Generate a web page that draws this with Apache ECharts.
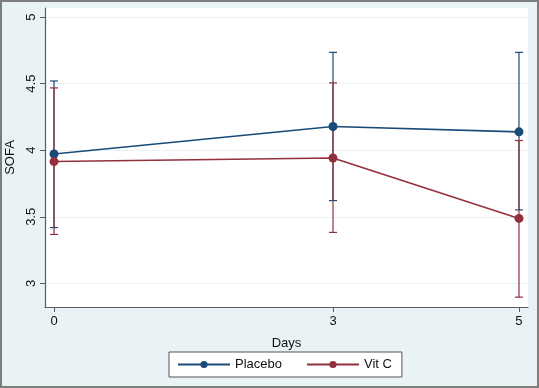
<!DOCTYPE html>
<html>
<head>
<meta charset="utf-8">
<script src="https://cdn.jsdelivr.net/npm/echarts@6/dist/echarts.min.js"></script>
<style>
  html, body { margin: 0; padding: 0; background: #fff; }
  #chart { width: 539px; height: 388px; box-sizing: border-box; border: 2px solid #7d7d7d; }
</style>
</head>
<body>
<div id="chart"></div>
<script>
// data
const days = [0, 3, 5];
const placeboMean = [3.972, 4.178, 4.138];
const placeboLow = [3.419, 3.622, 3.552];
const placeboHigh = [4.52, 4.735, 4.735];
const vitcMean = [3.915, 3.942, 3.488];
const vitcLow = [3.368, 3.383, 2.897];
const vitcHigh = [4.468, 4.506, 4.073];
const yTicks = [3, 3.5, 4, 4.5, 5];
const xTicks = [0, 3, 5];

const blue = "#1a4b78";
const red = "#93303d";

const chart = echarts.init(document.getElementById("chart"));

// error bar drawer
const errorBars = (name, low, high, color) => ({
  name: name,
  type: "custom",
  z: 1,
  color: color,
  data: days.map((d, i) => [d, low[i], high[i]]),
  renderItem: (params, api) => {
    const lo = api.coord([api.value(0), api.value(1)]);
    const hi = api.coord([api.value(0), api.value(2)]);
    const half = 4;
    const style = { stroke: color, lineWidth: 1.2 };
    return {
      type: "group",
      children: [
        { type: "line", shape: { x1: lo[0], y1: lo[1], x2: hi[0], y2: hi[1] }, style: style },
        { type: "line", shape: { x1: lo[0] - half, y1: lo[1], x2: lo[0] + half, y2: lo[1] }, style: style },
        { type: "line", shape: { x1: hi[0] - half, y1: hi[1], x2: hi[0] + half, y2: hi[1] }, style: style },
      ],
    };
  },
});

const font = "Liberation Sans, Arial, sans-serif";

chart.setOption({
  backgroundColor: "#e9f2f4",
  animation: false,
  textStyle: { fontFamily: font },
  grid: {
    left: 43,
    right: 9,
    top: 6,
    bottom: 79,
    outerBoundsMode: "none",
    containLabel: false,
    show: true,
    backgroundColor: "#ffffff",
    borderWidth: 0,
  },
  xAxis: {
    type: "value",
    min: -0.097,
    max: 5.097,
    name: "Days",
    nameLocation: "middle",
    nameGap: 30,
    nameTextStyle: { fontSize: 13, color: "#111" },
    axisLine: { show: true, onZero: false, lineStyle: { color: "#5a5a5a", width: 1.2 } },
    axisTick: { show: true, length: 5, customValues: xTicks, lineStyle: { color: "#5a5a5a" } },
    axisLabel: { customValues: xTicks, fontSize: 13, color: "#111", margin: 8 },
    splitLine: { show: false },
  },
  yAxis: {
    type: "value",
    min: 2.823,
    max: 5.068,
    name: "SOFA",
    nameLocation: "middle",
    nameRotate: 90,
    nameGap: 17,
    nameTextStyle: { fontSize: 13, color: "#111" },
    axisLine: { show: true, onZero: false, lineStyle: { color: "#5a5a5a", width: 1.2 } },
    axisTick: { show: true, length: 5, customValues: yTicks, lineStyle: { color: "#5a5a5a" } },
    axisLabel: { customValues: yTicks, rotate: 90, fontSize: 13, color: "#111", margin: 7 },
    splitLine: { show: true, lineStyle: { color: "#e8f1f4", width: 1 } },
  },
  legend: {
    left: 167,
    top: 350,
    padding: [6, 10, 6, 8],
    itemGap: 24,
    itemWidth: 52,
    itemHeight: 9,
    backgroundColor: "#ffffff",
    borderColor: "#555",
    borderWidth: 1,
    borderRadius: 0,
    textStyle: { fontSize: 13, color: "#111" },
    data: ["Placebo", "Vit C"],
  },
  series: [
    errorBars("Placebo CI", placeboLow, placeboHigh, blue),
    errorBars("Vit C CI", vitcLow, vitcHigh, red),
    {
      name: "Placebo",
      type: "line",
      z: 3,
      data: days.map((d, i) => [d, placeboMean[i]]),
      color: blue,
      symbol: "circle",
      symbolSize: 9,
      lineStyle: { width: 1.6 },
    },
    {
      name: "Vit C",
      type: "line",
      z: 3,
      data: days.map((d, i) => [d, vitcMean[i]]),
      color: red,
      symbol: "circle",
      symbolSize: 9,
      lineStyle: { width: 1.6 },
    },
  ],
});
</script>
</body>
</html>
